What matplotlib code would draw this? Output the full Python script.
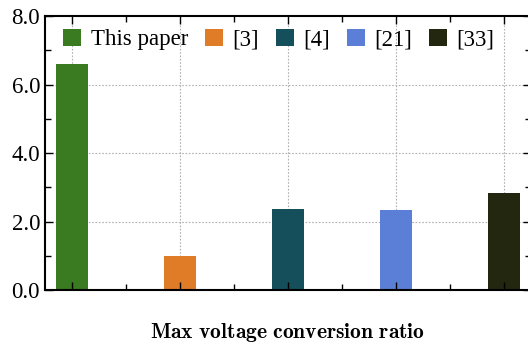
import matplotlib
matplotlib.use("Agg")
import matplotlib.pyplot as plt
from matplotlib.ticker import MultipleLocator, FixedLocator
import numpy as np

labels = ["This paper", "[3]", "[4]", "[21]", "[33]"]
values = [6.6, 1.0, 2.37, 2.35, 2.83]
colors = ["#3a7a20", "#e07b28", "#164f5c", "#5b7fd6", "#23270f"]
xlabel = "Max voltage conversion ratio"

plt.rcParams['font.family'] = ['Liberation Serif', 'DejaVu Serif']
plt.rcParams['mathtext.fontset'] = 'cm'

fig = plt.figure(figsize=(5.28, 3.49), dpi=100)
ax = fig.add_axes([0.0852, 0.169, 0.92, 0.785])

x = np.arange(len(values))
for xi, v, c, l in zip(x, values, colors, labels):
    ax.bar(xi, v, width=0.3, color=c, label=l, zorder=2)

ax.set_xlim(-0.25, 4.25)
ax.set_ylim(0, 8)
ax.yaxis.set_major_locator(MultipleLocator(2))
ax.yaxis.set_minor_locator(MultipleLocator(1))
ax.yaxis.set_major_formatter(matplotlib.ticker.FormatStrFormatter('%.1f'))
ax.xaxis.set_major_locator(FixedLocator(x))
ax.xaxis.set_minor_locator(FixedLocator(x[:-1] + 0.5))
ax.set_xticklabels([])
ax.tick_params(axis='both', which='both', direction='in', top=True, right=True)
ax.tick_params(axis='both', which='major', length=6, width=1.0, labelsize=16.5)
ax.tick_params(axis='both', which='minor', length=4, width=1.0)
for s in ax.spines.values():
    s.set_linewidth(1.5)
ax.set_axisbelow(False)

# grid drawn beneath the bars, at the major tick positions
grid_kw = dict(linestyle=(0, (1.5, 1.5)), color='#b0b0b0', linewidth=0.8, zorder=0)
for yt in ax.get_yticks():
    if 0 < yt < 8:
        ax.axhline(yt, **grid_kw)
for xt in x:
    ax.axvline(xt, **grid_kw)

ax.set_xlabel(r"$\mathbf{Max\ voltage\ conversion\ ratio}$", fontsize=15.5, labelpad=19)

ax.legend(loc='upper center', bbox_to_anchor=(0.481, 1.0), ncol=5, frameon=False,
          fontsize=16.5, handlelength=0.8, handleheight=0.8, handletextpad=0.4,
          columnspacing=0.73, borderaxespad=0.15)

fig.savefig("out.png", dpi=100)
